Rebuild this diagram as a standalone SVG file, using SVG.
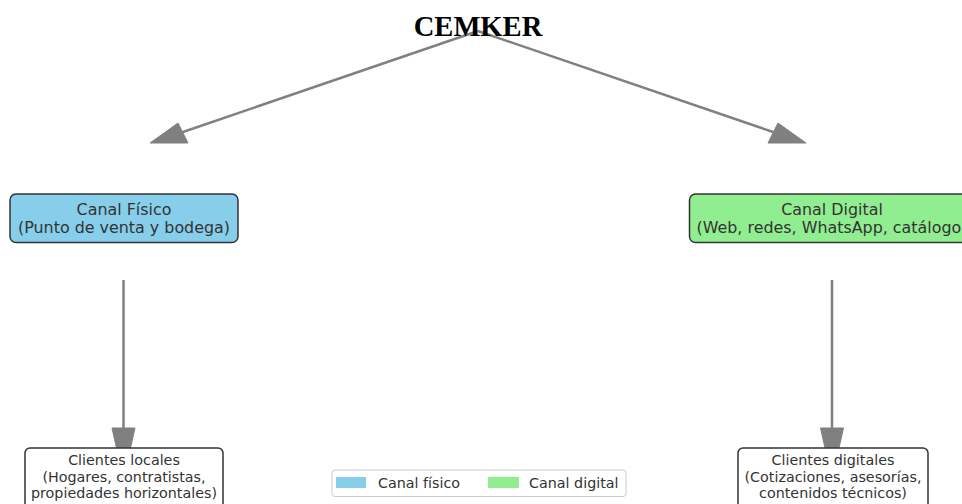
<svg xmlns="http://www.w3.org/2000/svg" width="962" height="504" viewBox="0 0 962 504">
<style>
.title{font-family:"Liberation Serif",serif;font-weight:bold;font-size:28.6px;fill:#000}
.t{font-family:"DejaVu Sans",sans-serif;font-size:15.9px;fill:#333;text-anchor:middle}
.s{font-family:"DejaVu Sans",sans-serif;font-size:14.3px;fill:#333;text-anchor:middle}
.lg{font-family:"DejaVu Sans",sans-serif;font-size:14.3px;fill:#333}
.box{stroke:#333;stroke-width:1.5}
.line{stroke:#808080;stroke-width:2.5;fill:none}
.head{fill:#808080;stroke:#808080;stroke-width:1}
</style>
<rect width="962" height="504" fill="#fff"/>
<g id="connectors">
<line class="line" x1="478" y1="31" x2="180" y2="133"/>
<polygon class="head" points="150,143 178,123 188,143"/>
<line class="line" x1="478" y1="31" x2="776" y2="133"/>
<polygon class="head" points="806,143 778,123 768,143"/>
<line class="line" x1="123.5" y1="280" x2="123.5" y2="430"/>
<polygon class="head" points="112,428 135,428 123.5,479"/>
<line class="line" x1="832" y1="280" x2="832" y2="430"/>
<polygon class="head" points="820.5,428 843.5,428 832,479"/>
</g>
<g id="title"><text class="title" x="478" y="36" text-anchor="middle">CEMKER</text></g>
<g id="canal-fisico">
<rect class="box" x="10" y="194" width="228" height="48.5" rx="6" fill="#87CEEB"/>
<text class="t" x="124" y="214.5">Canal Físico</text>
<text class="t" x="124" y="233">(Punto de venta y bodega)</text>
</g>
<g id="canal-digital">
<rect class="box" x="689.5" y="194" width="300" height="48.5" rx="6" fill="#90EE90"/>
<text class="t" x="832" y="214.5">Canal Digital</text>
<text class="t" x="832" y="233">(Web, redes, WhatsApp, catálogo)</text>
</g>
<g id="clientes-locales">
<rect class="box" x="25" y="448" width="198" height="70" rx="5" fill="#fff"/>
<text class="s" x="124" y="465">Clientes locales</text>
<text class="s" x="124" y="482">(Hogares, contratistas,</text>
<text class="s" x="124" y="498">propiedades horizontales)</text>
</g>
<g id="clientes-digitales">
<rect class="box" x="738" y="448" width="190" height="70" rx="5" fill="#fff"/>
<text class="s" x="833" y="465">Clientes digitales</text>
<text class="s" x="833" y="482">(Cotizaciones, asesorías,</text>
<text class="s" x="833" y="498">contenidos técnicos)</text>
</g>
<g id="legend">
<rect x="332" y="470" width="294" height="26.5" rx="3" fill="#fff" stroke="#ccc" stroke-width="1"/>
<rect x="336" y="477" width="30" height="11" fill="#87CEEB"/>
<text class="lg" x="378" y="487.5">Canal físico</text>
<rect x="488" y="477" width="31" height="11" fill="#90EE90"/>
<text class="lg" x="529" y="487.5">Canal digital</text>
</g>
</svg>
